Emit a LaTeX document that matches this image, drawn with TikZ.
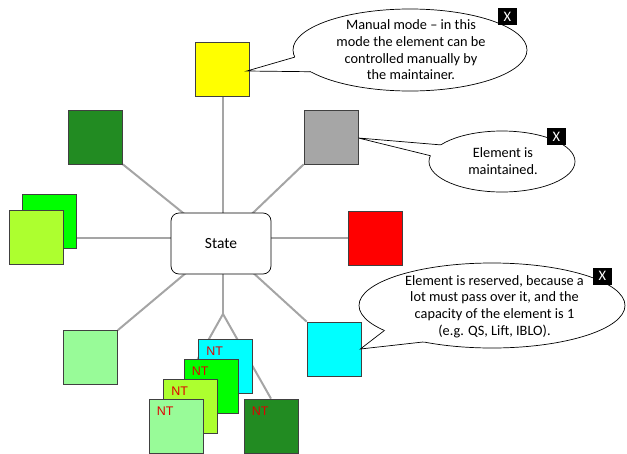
\documentclass[tikz,border=0pt]{standalone}
\usepackage{fontspec}
\setmainfont{Carlito}
\newfontfamily\ntfont{Liberation Sans}
\usetikzlibrary{calc,backgrounds}
\definecolor{cYellow}{HTML}{FFFF00}
\definecolor{cDG}{HTML}{228B22}
\definecolor{cGray}{HTML}{A6A6A6}
\definecolor{cRed}{HTML}{FF0000}
\definecolor{cLime}{HTML}{00FF00}
\definecolor{cYG}{HTML}{ADFF2F}
\definecolor{cPG}{HTML}{98FB98}
\definecolor{cCyan}{HTML}{00FFFF}
\definecolor{cLine}{HTML}{A5A5A5}
\definecolor{cBorder}{HTML}{404040}
\definecolor{cNT}{HTML}{E00000}
\begin{document}
\begin{tikzpicture}[x=1pt,y=-1pt,
  sq/.style={draw=cBorder, line width=0.7pt, minimum width=54pt, minimum height=54pt, inner sep=0pt},
  conn/.style={draw=cLine, line width=2pt},
  ntlab/.style={font=\ntfont\fontsize{12.5}{14}\selectfont, text=cNT, anchor=north west, inner sep=0pt},
  callout/.style={draw=black, line width=0.7pt, fill=white},
  ctext/.style={align=center, font=\fontsize{14.3}{16.7}\selectfont, inner sep=0pt},
  xbox/.style={fill=black, text=white, minimum width=19pt, minimum height=17pt, inner sep=0pt, font=\fontsize{14.5}{14.5}\selectfont},
  statebox/.style={draw=black, line width=0.7pt, fill=white, rounded corners=8pt, minimum width=100pt, minimum height=61pt, font=\fontsize{15.5}{18}\selectfont}
]
\useasboundingbox (0,0) rectangle (627,453);
\clip (0,0) rectangle (627,453);

% central node
\node[statebox] (state) at (221,243.5) {State};

% squares
\node[sq, fill=cYellow] (yellow) at (222.5,69.5) {};
\node[sq, fill=cDG] (dg) at (95.5,137) {};
\node[sq, fill=cGray] (gray) at (331,137) {};
\node[sq, fill=cLime] (gb) at (49.5,221) {};
\node[sq, fill=cYG] (yg) at (36,237.5) {};
\node[sq, fill=cRed] (red) at (375.5,238) {};
\node[sq, fill=cCyan] (cyan) at (334,349) {};
\node[sq, fill=cPG] (pg) at (90.5,357.5) {};

% NT stack
\node[sq, fill=cCyan] (ntc) at (225.5,366) {};
\node[ntlab] at ($(ntc.north west)+(8,8)$) {NT};
\node[sq, fill=cLime] (ntg) at (211,386.5) {};
\node[ntlab] at ($(ntg.north west)+(8,8)$) {NT};
\node[sq, fill=cYG] (ntyg) at (190.5,406.5) {};
\node[ntlab] at ($(ntyg.north west)+(8,8)$) {NT};
\node[sq, fill=cPG] (ntpg) at (176,426) {};
\node[ntlab] at ($(ntpg.north west)+(8,8)$) {NT};
\node[sq, fill=cDG] (ntdg) at (271,426) {};
\node[ntlab] at ($(ntdg.north west)+(8,8)$) {NT};

\coordinate (br) at (223,314);

% connectors (behind)
\begin{pgfonlayer}{background}
  \draw[conn] (yellow.south) -- (yellow.south |- state.center);
  \draw[conn] (dg.south east) -- (state.center);
  \draw[conn] (gray.south west) -- (state.center);
  \draw[conn] (gb.east |- red.west) -- (red.west);
  \draw[conn] (cyan.north west) -- (state.center);
  \draw[conn] (pg.north east) -- (state.center);
  \draw[conn] (state.center -| br) -- (br);
  \draw[conn] (br) -- ($(ntg.north west)+(14,0)$);
  \draw[conn] (br) -- (ntdg.north);
\end{pgfonlayer}

% callout 1
\coordinate (c1) at (410,50);
\coordinate (tip1) at ($(yellow.east)+(-3,1.5)$);
\path[callout] (c1) ellipse [x radius=117, y radius=41];
\fill[white] ($(c1)+({117*cos(170)},{41*sin(170)})$) -- (tip1) -- ($(c1)+({117*cos(148)},{41*sin(148)})$) -- (c1) -- cycle;
\draw[line width=0.7pt] ($(c1)+({117*cos(170)},{41*sin(170)})$) -- (tip1) -- ($(c1)+({117*cos(148)},{41*sin(148)})$);
\node[ctext] (t1) at (411,50) {Manual mode – in this\\mode the element can be\\controlled manually by\\the maintainer.};
\node[xbox] (x1) at (507.5,16.5) {X};

% callout 2
\coordinate (c2) at (502,161.5);
\coordinate (tip2) at ($(gray.east)+(0,1)$);
\path[callout] (c2) ellipse [x radius=73, y radius=30.5];
\fill[white] ($(c2)+({73*cos(213)},{30.5*sin(213)})$) -- (tip2) -- ($(c2)+({73*cos(191)},{30.5*sin(191)})$) -- (c2) -- cycle;
\draw[line width=0.7pt] ($(c2)+({73*cos(213)},{30.5*sin(213)})$) -- (tip2) -- ($(c2)+({73*cos(191)},{30.5*sin(191)})$);
\node[ctext] (t2) at (503,161) {Element is\\maintained.};
\node[xbox] (x2) at (556.5,136.5) {X};

% callout 3
\coordinate (c3) at (492,305.5);
\coordinate (tip3) at ($(cyan.east)+(-1,0)$);
\path[callout] (c3) ellipse [x radius=133, y radius=42.5];
\fill[white] ($(c3)+({133*cos(144)},{42.5*sin(144)})$) -- (tip3) -- ($(c3)+({133*cos(121)},{42.5*sin(121)})$) -- (c3) -- cycle;
\draw[line width=0.7pt] ($(c3)+({133*cos(144)},{42.5*sin(144)})$) -- (tip3) -- ($(c3)+({133*cos(121)},{42.5*sin(121)})$);
\node[ctext] (t3) at (494.5,306.5) {Element is reserved, because a\\lot must pass over it, and the\\capacity of the element is 1\\(e.g. QS, Lift, IBLO).};
\node[xbox] (x3) at (602.5,276) {X};
\end{tikzpicture}
\end{document}
